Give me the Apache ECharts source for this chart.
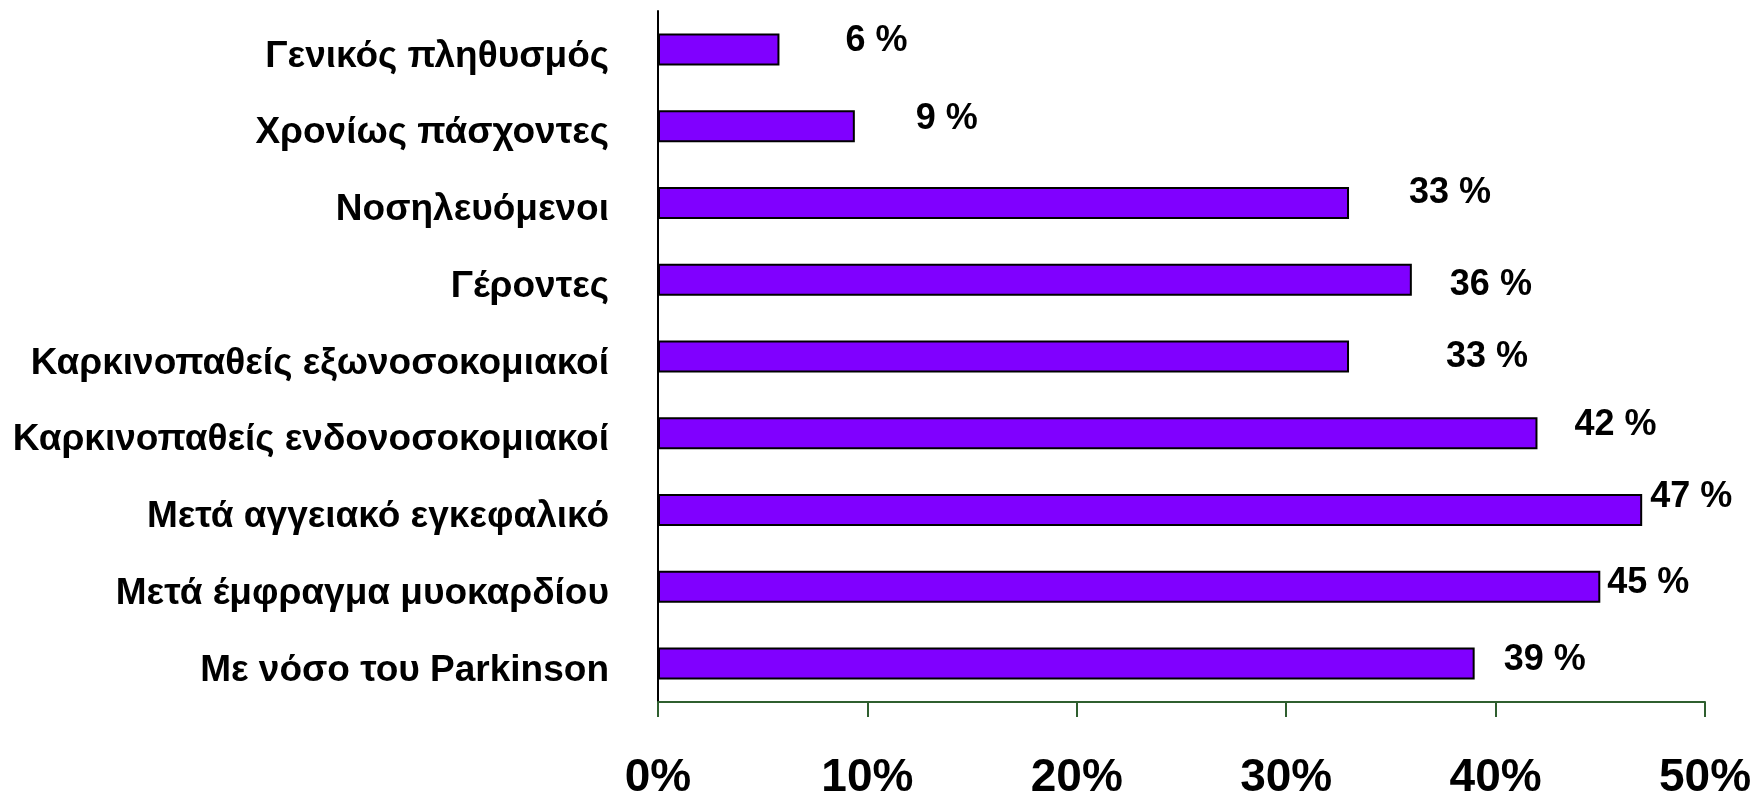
<!DOCTYPE html>
<html>
<head>
<meta charset="utf-8">
<script src="https://cdn.jsdelivr.net/npm/echarts@6/dist/echarts.min.js"></script>
<style>
  html, body { margin: 0; padding: 0; background: #fff; }
  #chart { width: 1759px; height: 797px; }
</style>
</head>
<body>
<div id="chart"></div>
<script>
// groups, top to bottom
const categories = [
  'Γενικός πληθυσμός',
  'Χρονίως πάσχοντες',
  'Νοσηλευόμενοι',
  'Γέροντες',
  'Καρκινοπαθείς εξωνοσοκομιακοί',
  'Καρκινοπαθείς ενδονοσοκομιακοί',
  'Μετά αγγειακό εγκεφαλικό',
  'Μετά έμφραγμα μυοκαρδίου',
  'Με νόσο του Parkinson',
];
// bar lengths as drawn (%)
const values = [5.8, 9.4, 33, 36, 33, 42, 47, 45, 39];
// printed value labels
const valueLabels = ['6 %', '9 %', '33 %', '36 %', '33 %', '42 %', '47 %', '45 %', '39 %'];
const tickValues = [0, 10, 20, 30, 40, 50];

// hand-placed label nudges from the original slide, [dx, dy] px
const labelNudge = [[66, -8], [61, -7], [60, -10], [38, 5], [97, 1], [37, -8], [8, -13], [7, -4], [29, -4]];

// no narrow face installed, so plain bold a bit smaller
const BOLD = '"Liberation Sans", Arial, sans-serif';

const chart = echarts.init(document.getElementById('chart'), null, { renderer: 'canvas' });
chart.setOption({
  animation: false,
  // labels overflow on purpose (like the slide), don't let v6 shrink the grid
  grid: { left: 658, right: 54, top: 11, bottom: 95, outerBoundsMode: 'none' },
  xAxis: {
    type: 'value',
    min: 0, max: 50, interval: 10,
    axisLine: { show: true, lineStyle: { color: '#2f5f2f', width: 2 } },
    axisTick: { show: true, length: 15, lineStyle: { color: '#2f5f2f', width: 2 } },
    splitLine: { show: false },
    axisLabel: {
      color: '#000', fontFamily: BOLD, fontWeight: 'bold', fontSize: 46,
      margin: 53,
      formatter: v => tickValues.includes(v) ? v + '%' : '',
    },
  },
  yAxis: {
    type: 'category',
    data: categories,
    inverse: true,
    axisLine: { show: true, lineStyle: { color: '#000', width: 2 } },
    axisTick: { show: false },
    // slide text sits a few px below the bar centre
    axisLabel: {
      color: '#000', fontFamily: BOLD, fontWeight: 'bold', fontSize: 37,
      margin: 49, verticalAlign: 'top', lineHeight: 14,
    },
  },
  series: [{
    type: 'bar',
    barWidth: 32,
    data: values.map((v, i) => ({
      value: v,
      label: { offset: labelNudge[i] },
    })),
    itemStyle: { color: '#8000ff', borderColor: '#000', borderWidth: 2 },
    label: {
      show: true, position: 'right', distance: 0,
      color: '#000', fontFamily: BOLD, fontWeight: 'bold', fontSize: 36,
      formatter: p => valueLabels[p.dataIndex],
    },
  }],
});
</script>
</body>
</html>
